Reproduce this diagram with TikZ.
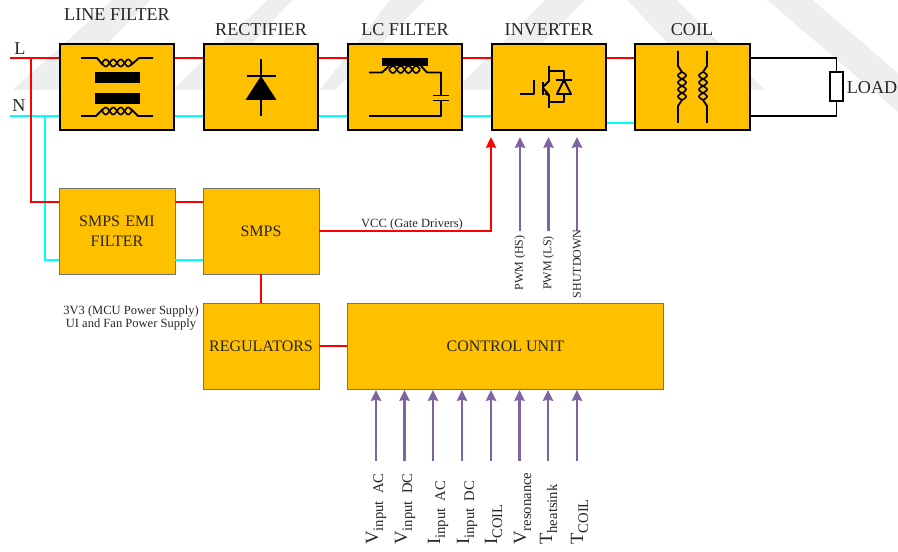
\documentclass[tikz,border=0pt]{standalone}
\usepackage{fontspec}
\setmainfont{Liberation Serif}
\usetikzlibrary{arrows.meta,calc}
\definecolor{boxc}{HTML}{FFC000}
\definecolor{purp}{HTML}{8064A2}
\definecolor{txt}{HTML}{262626}
\definecolor{wm}{HTML}{EEEEEE}
\definecolor{redline}{HTML}{FF0000}
\definecolor{cyanline}{HTML}{00FFFF}
\newcommand{\fs}[1]{\fontsize{#1}{#1}\selectfont}
\newcommand{\sbs}[2]{#1\raisebox{-0.28em}{\fs{11}#2}}
\newcommand{\twistH}[4]{% x1,x2,y,amp
  \draw[icon,line width=1.2pt] plot[domain=0:4,samples=49] ({#1+(#2-#1)*\x/4},{#3+#4*sin(\x*180)});
  \draw[icon,line width=1.2pt] plot[domain=0:4,samples=49] ({#1+(#2-#1)*\x/4},{#3-#4*sin(\x*180)});}
\newcommand{\twistV}[4]{% y1,y2,x,amp
  \draw[icon,line width=1.2pt] plot[domain=0:4,samples=49] ({#3+#4*sin(\x*180)},{#1+(#2-#1)*\x/4});
  \draw[icon,line width=1.2pt] plot[domain=0:4,samples=49] ({#3-#4*sin(\x*180)},{#1+(#2-#1)*\x/4});}
\tikzset{
  mainbox/.style={draw=black,line width=1.5pt,fill=boxc,minimum width=86pt,minimum height=64pt,inner sep=0pt,text=txt,font=\fs{12}},
  lowbox/.style={draw=black!55,line width=.7pt,fill=boxc,minimum width=87pt,minimum height=64.5pt,inner sep=0pt,text=txt,font=\fs{12},align=center},
  redw/.style={draw=redline,line width=1.6pt},
  cyanw/.style={draw=cyanline,line width=1.6pt},
  sig/.style={draw=purp,line width=2pt,-{Stealth[inset=.6pt,length=8pt,width=7.5pt]}},
  redarrow/.style={redw,-{Stealth[inset=.6pt,length=8pt,width=7.5pt]}},
  icon/.style={draw=black,line width=1.4pt},
  blacktext/.style={draw=black,line width=1.3pt},
  title/.style={text=txt,font=\fs{13.6},inner sep=0pt},
  small/.style={text=txt,font=\fs{9.4},inner sep=0pt,align=center},
  vlabel/.style={text=txt,font=\fs{9},inner sep=0pt,rotate=90},
  meas/.style={text=txt,font=\fs{14},inner sep=0pt,rotate=90,anchor=base west},
  water/.style={fill=wm,draw=none}
}
\begin{document}
\begin{tikzpicture}[x=0.75pt,y=-0.75pt]
\useasboundingbox (0,0) rectangle (898,552);
% watermark
\fill[water] (112,0)--(150,0)--(62,90)--(13,90)--cycle;
\fill[water] (268,0)--(292,0)--(210,90)--(172,90)--cycle;
\fill[water] (390,0)--(425,0)--(335,90)--(320,90)--cycle;
\fill[water] (545,0)--(585,0)--(495,90)--(455,90)--cycle;
\fill[water] (627,0)--(677,0)--(765,90)--(712,90)--cycle;
\fill[water] (767,0)--(813,0)--(898,73)--(898,112)--cycle;
% anchors for wire levels
\coordinate (Ly) at (0,58);
\coordinate (Ny) at (0,116);
\coordinate (Cy) at (0,123);
\coordinate (Ey) at (0,202);
\coordinate (Fy) at (0,260);
\coordinate (Ax) at (31,0);
\coordinate (Bx) at (45,0);
\coordinate (Lstart) at (10,58);
\coordinate (Nstart) at (10,116);
% wires first, boxes over their ends
\coordinate (lfw) at (59,0);
\node[mainbox] (lf) at (117,87) {};
\node[mainbox] (rc) at (261,87) {};
\node[mainbox] (lc) at (405,87) {};
\node[mainbox] (inv) at (549,87) {};
\node[mainbox] (coil) at (692.5,87) {};
\node[lowbox,text width=80pt] (emi) at (117,231) {SMPS EMI\\[3pt]FILTER};
\node[lowbox] (smps) at (261,231) {SMPS};
\node[lowbox] (reg) at (261,346) {REGULATORS};
\node[lowbox,minimum width=237.5pt] (cu) at (505.5,346) {CONTROL UNIT};
% titles
\node[title] (t1) at (117,15) {LINE FILTER};
\node[title] (t2) at (261,30) {RECTIFIER};
\node[title] (t3) at (405,30) {LC FILTER};
\node[title] (t4) at (549,30) {INVERTER};
\node[title] (t5) at (692,30) {COIL};
\node[title] (tL) at (20,49) {L};
\node[title] (tN) at (19,106) {N};
\node[title] (load) at (872,88) {LOAD};
% wires
\draw[cyanw] (Nstart) -- (lf.west|-Ny);
\draw[cyanw] (Bx|-Ny) -- (Bx|-Fy) -- (emi.west|-Fy);
\draw[redw] (Lstart) -- (lf.west|-Ly);
\draw[redw] (lf.east|-Ly) -- (rc.west|-Ly);
\draw[redw] (rc.east|-Ly) -- (lc.west|-Ly);
\draw[redw] (lc.east|-Ly) -- (inv.west|-Ly);
\draw[redw] (inv.east|-Ly) -- (coil.west|-Ly);
\draw[cyanw] (lf.east|-Ny) -- (rc.west|-Ny);
\draw[cyanw] (rc.east|-Ny) -- (lc.west|-Ny);
\draw[cyanw] (lc.east|-Ny) -- (inv.west|-Ny);
\draw[cyanw] (inv.east|-Cy) -- (coil.west|-Cy);
\draw[redw] (Ax|-Ly) -- (Ax|-Ey) -- (emi.west|-Ey);
\draw[redw] (emi.east|-Ey) -- (smps.west|-Ey);
\draw[cyanw] (emi.east|-Fy) -- (smps.west|-Fy);
\draw[redw] (smps.south) -- (reg.north);
\draw[redw] (reg.east) -- (cu.west);
\coordinate (vcctip) at (491,137);
\draw[redarrow] (smps.east) -- (vcctip|-smps.east) -- (vcctip);
\node[small] (vcc) at (412,224) {VCC (Gate Drivers)};
\node[small] (sup) at (131,318) {3V3 (MCU Power Supply)\\[1pt]UI and Fan Power Supply};
% load
\node[draw=black,line width=1.2pt,fill=white,minimum width=9.8pt,minimum height=21.5pt,inner sep=0pt] (res) at (836.5,86.5) {};
\draw[blacktext] (coil.east|-Ly) -- (res.north|-Ly) -- (res.north);
\draw[blacktext] (coil.east|-Ny) -- (res.south|-Ny) -- (res.south);
% pwm arrows
\coordinate (p1t) at (520,137); \coordinate (p1b) at (520,231);
\coordinate (p2t) at (548.5,137); \coordinate (p2b) at (548.5,231);
\coordinate (p3t) at (577,137); \coordinate (p3b) at (577,231);
\draw[sig] (p1b) -- (p1t);
\draw[sig] (p2b) -- (p2t);
\draw[sig] (p3b) -- (p3t);
\node[vlabel] (lb1) at (520,263) {PWM (HS)};
\node[vlabel] (lb2) at (548.5,263) {PWM (LS)};
\node[vlabel] (lb3) at (577,264) {SHUTDOWN};
% measurement arrows
\foreach \n/\x in {a/376,b/404.5,c/433,d/462,e/491,f/519.5,g/548,h/577}{
  \coordinate (m\n t) at (\x,390); \coordinate (m\n b) at (\x,461);
  \draw[sig] (m\n b) -- (m\n t);
}
\node[meas] (va) at (378,545) {\sbs{V}{input\ \ AC}};
\node[meas] (vb) at (407,545) {\sbs{V}{input\ \ DC}};
\node[meas] (vc) at (440,545) {\sbs{I}{input\ \ AC}};
\node[meas] (vd) at (469,545) {\sbs{I}{input\ \ DC}};
\node[meas] (ve) at (497,545) {\sbs{I}{COIL}};
\node[meas] (vf) at (526,545) {\sbs{V}{resonance}};
\node[meas] (vg) at (552,545) {\sbs{T}{heatsink}};
\node[meas] (vh) at (583,545) {\sbs{T}{COIL}};
% line filter icon
\fill[black] (94.5,72) rectangle (140,83);
\fill[black] (94.5,93) rectangle (140,104);
\draw[icon,line join=round] (81,58) -- (97,58) -- (103,65);
\draw[icon,line join=round] (131,65) -- (139,58) -- (153,58);
\twistH{102}{132}{63}{3.5}
\draw[icon,line join=round] (81,116) -- (96,116) -- (103,109);
\draw[icon,line join=round] (131,109) -- (138,116) -- (153,116);
\twistH{102}{132}{111}{3.5}
% rectifier icon
\draw[icon] (261,59) -- (261,116);
\draw[icon] (246.5,76) -- (276,76);
\fill[black] (261,76) -- (276.5,100) -- (245.5,100) -- cycle;
% LC icon
\fill[black] (382,58) rectangle (428,66);
\draw[icon,line join=round] (369,72.5) -- (382,72.5) -- (389,66);
\draw[icon,line join=round] (421,66) -- (427,72.5) -- (441,72.5) -- (441,95);
\draw[icon,line join=round] (441,100) -- (441,116) -- (369,116);
\draw[icon] (433,95.5) -- (449,95.5);
\draw[icon] (433,100.5) -- (449,100.5);
\twistH{389}{420}{69.5}{3.5}
% IGBT icon
\draw[icon,line join=round] (520,94) -- (534,94) -- (534,80);
\draw[icon] (543,82) -- (543,95);
\draw[icon] (549,66) -- (549,81) -- (543,87);
\draw[icon] (543,88) -- (549,95) -- (549,108);
\fill[black] (550,97) -- (544,94) -- (547,91) -- cycle;
\draw[icon,line join=round] (549,71) -- (564,71) -- (564,80);
\draw[icon] (556,80) -- (571.5,80);
\draw[icon,line join=round] (564,80) -- (571,94) -- (557,94) -- cycle;
\draw[icon,line join=round] (564,94) -- (564,102) -- (549,102);
% coil icon
\draw[icon,line join=round] (678,51) -- (678,66) -- (682,72);
\draw[icon,line join=round] (682,100) -- (678,106) -- (678,123);
\twistV{72}{100}{682}{4}
\draw[icon,line join=round] (707,51) -- (707,66) -- (703,72);
\draw[icon,line join=round] (703,100) -- (707,106) -- (707,123);
\twistV{72}{100}{703}{4}
\end{tikzpicture}
\end{document}
